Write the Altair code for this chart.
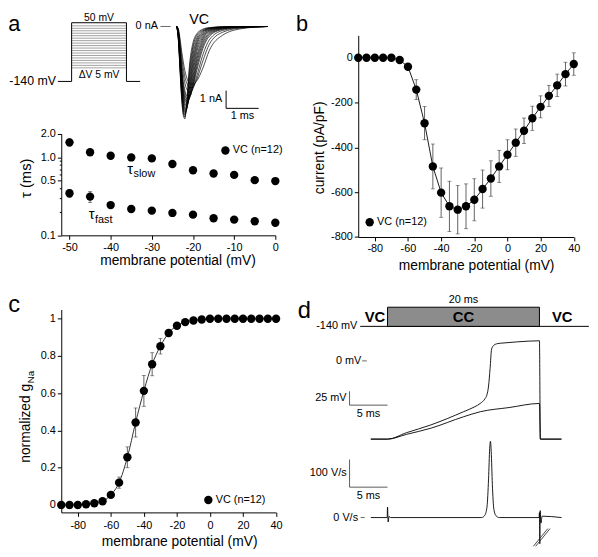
import altair as alt
import pandas as pd

FONT = "Liberation Sans"
SERIES = "VC (n=12)"

# ---------------- panel a (top): voltage-step protocol, schematic (ms, mV) ----------------
PROTO_T = [-1, 0, 0, 4, 4, 5]
PROTO_V = [-140, -140, 50, 50, -140, -140]
STEP_LEVELS = [40, 32, 24, 16, 8, 0, -8, -16, -24, -32, -40, -48, -56, -64, -72, -80, -88, -96]

# ---------------- panel a (top): VC sodium current traces (ms, nA) ----------------
TRACE_T = [0, 0.05, 0.1, 0.15, 0.2, 0.25, 0.3, 0.4, 0.5, 0.6, 0.8, 1.0, 1.4, 2.0, 2.8]
TRACES = [
    [0, -0.8, -2.5, -4.1, -5.0, -5.2, -4.3, -2.0, -0.9, -0.45, -0.15, -0.06, -0.02, 0, 0],
    [0, -0.75, -2.4, -3.95, -4.85, -5.1, -4.45, -2.3, -1.1, -0.55, -0.2, -0.08, -0.02, 0, 0],
    [0, -0.7, -2.3, -3.8, -4.7, -5.0, -4.6, -2.6, -1.3, -0.7, -0.25, -0.1, -0.03, -0.01, 0],
    [0, -0.65, -2.2, -3.65, -4.55, -4.9, -4.65, -2.9, -1.55, -0.85, -0.3, -0.12, -0.03, -0.01, 0],
    [0, -0.6, -2.1, -3.5, -4.4, -4.8, -4.7, -3.2, -1.8, -1.0, -0.35, -0.14, -0.04, -0.01, 0],
    [0, -0.55, -2.0, -3.35, -4.25, -4.7, -4.65, -3.4, -2.05, -1.15, -0.42, -0.17, -0.05, -0.01, 0],
    [0, -0.5, -1.9, -3.2, -4.1, -4.6, -4.6, -3.6, -2.3, -1.35, -0.5, -0.2, -0.06, -0.02, 0],
    [0, -0.45, -1.8, -3.05, -3.95, -4.45, -4.5, -3.75, -2.55, -1.55, -0.6, -0.24, -0.07, -0.02, 0],
    [0, -0.4, -1.7, -2.9, -3.8, -4.3, -4.45, -3.9, -2.8, -1.8, -0.7, -0.28, -0.08, -0.02, 0],
    [0, -0.38, -1.6, -2.75, -3.65, -4.15, -4.3, -3.95, -3.0, -2.0, -0.82, -0.34, -0.1, -0.03, 0],
    [0, -0.35, -1.5, -2.6, -3.5, -4.0, -4.2, -4.0, -3.2, -2.2, -0.95, -0.4, -0.12, -0.03, 0],
    [0, -0.32, -1.4, -2.45, -3.3, -3.8, -4.05, -3.95, -3.3, -2.4, -1.1, -0.47, -0.14, -0.035, 0],
    [0, -0.3, -1.3, -2.3, -3.1, -3.6, -3.9, -3.9, -3.4, -2.6, -1.25, -0.55, -0.17, -0.04, 0],
    [0, -0.25, -1.1, -2.0, -2.7, -3.2, -3.5, -3.7, -3.5, -2.9, -1.6, -0.75, -0.23, -0.06, 0],
    [0, -0.2, -0.9, -1.7, -2.35, -2.85, -3.15, -3.45, -3.4, -3.05, -1.95, -1.0, -0.33, -0.08, 0],
    [0, -0.15, -0.7, -1.4, -2.0, -2.5, -2.85, -3.2, -3.25, -3.1, -2.35, -1.35, -0.5, -0.12, 0],
]

# ---------------- panel a (bottom): inactivation time constants ----------------
TAU_V = [-50, -45, -40, -35, -30, -25, -20, -15, -10, -5, 0]
TAU_SLOW = [1.551, 1.160, 1.044, 0.994, 0.966, 0.818, 0.681, 0.619, 0.594, 0.509, 0.495]
TAU_SLOW_ERR = [0.17, 0.06, 0.04, 0.03, 0.04, 0.03, 0.02, 0.02, 0.02, 0.02, 0.02]
TAU_FAST = [0.346, 0.313, 0.244, 0.217, 0.207, 0.1935, 0.184, 0.1654, 0.159, 0.1516, 0.1447]
TAU_FAST_ERR = [0.04, 0.05, 0.02, 0.015, 0.018, 0.01, 0.008, 0.006, 0.006, 0.006, 0.005]
TAU_TICKS = [0.1, 0.2, 0.3, 0.4, 0.5, 0.6, 0.7, 0.8, 0.9, 1, 2]

# ---------------- panels b, c ----------------
MP = [-90, -85, -80, -75, -70, -65, -60, -55, -50, -45, -40, -35, -30, -25,
      -20, -15, -10, -5, 0, 5, 10, 15, 20, 25, 30, 35, 40]
IV_MEAN = [0, 0, 0, 0, 0, -10, -40, -142, -292, -485, -602, -663, -678, -663,
           -634, -586, -539, -485, -433, -379, -326, -270, -219, -170, -123, -73, -28]
IV_SEM = [0, 0, 0, 0, 0, 0, 0, 44, 74, 100, 110, 112, 108, 100,
          94, 85, 79, 72, 67, 61, 57, 54, 49, 47, 50, 53, 50]
G_MEAN = [0, 0, 0, 0.004, 0.009, 0.02, 0.054, 0.12, 0.256, 0.443, 0.613, 0.756, 0.853, 0.924,
          0.963, 0.982, 0.991, 0.996, 1, 1, 1, 1, 1, 1, 1, 1, 1]
G_SEM = [0, 0, 0, 0, 0, 0, 0.01, 0.03, 0.056, 0.078, 0.083, 0.062, 0.042, 0.018,
         0, 0, 0, 0, 0, 0, 0, 0, 0, 0, 0, 0, 0]

# ---------------- panel d: VC -> CC -> VC protocol and recordings ----------------
CC_START, CC_END = 0, 20
VM_UP_T = [-2.2, 0, 2.5, 5.7, 10.0, 11.5, 12.2, 12.85, 13.07, 13.3, 13.5, 13.7, 14.0, 14.5, 15.2, 17.0, 20.0, 20.12, 22.9]
VM_UP_V = [-140, -140, -128.5, -114.6, -91, -82, -76.2, -67.3, -61.5, -45, -14, 21, 28, 31, 32, 34, 36, -140, -140]
VM_LO_T = [-2.2, 0, 2.5, 5.7, 10.0, 12.2, 16.0, 20.0, 20.12, 22.9]
VM_LO_V = [-140, -140, -131.5, -120.5, -100, -91, -83.5, -76.2, -140, -140]
DVDT_T = [-2.2, -0.05, 0, 0.08, 0.2, 0.4, 12.4, 12.8, 13.1, 13.3, 13.45, 13.55, 13.65, 13.8,
          14.0, 14.3, 14.7, 19.95, 20.0, 20.05, 20.1, 20.2, 20.35, 22.9]
DVDT_V = [0, 0, 38, -16, 4, 0, 0, 8, 40, 140, 250, 276, 240, 120,
          30, 6, 0, 0, 18, -95, 25, -20, 5, 0]


# ---------------- helpers ----------------
def X(field, dom, axis=None):
    return alt.X(field, type="quantitative", scale=alt.Scale(domain=dom, nice=False, zero=False), axis=axis)


def Y(field, dom, axis=None, log=False, rng=None):
    kw = dict(domain=dom, nice=False)
    if log:
        kw["type"] = "log"
    else:
        kw["zero"] = False
    if rng is not None:
        kw["range"] = rng
    return alt.Y(field, type="quantitative", scale=alt.Scale(**kw), axis=axis)


class Frame:
    """x/y scale settings shared by all layers of one plotting frame"""

    def __init__(self, xd, yd, xa=None, ya=None, log=False, rng=None):
        self.xd, self.yd, self.xa, self.ya, self.log, self.rng = xd, yd, xa, ya, log, rng

    def x(self, f):
        return X(f, self.xd, self.xa)

    def y(self, f):
        return Y(f, self.yd, self.ya, self.log, self.rng)

    def text(self, x, y, label, **mk):
        df = pd.DataFrame({"x": [x], "y": [y], "label": [label]})
        return alt.Chart(df).mark_text(font=FONT, color="black", **mk).encode(
            x=self.x("x"), y=self.y("y"), text="label:N")

    def seg(self, x0, x1, y0, y1, color="black", width=1.0):
        df = pd.DataFrame({"x0": x0, "x1": x1, "y0": y0, "y1": y1})
        return alt.Chart(df).mark_rule(color=color, strokeWidth=width).encode(
            x=self.x("x0"), x2="x1", y=self.y("y0"), y2="y1")

    def errors(self, df, xf):
        d = df[df["err"] > 0].copy()
        d["lo"] = d["y"] - d["err"]
        d["hi"] = d["y"] + d["err"]
        stems = alt.Chart(d).mark_rule(color="#3a3a3a", strokeWidth=0.8).encode(
            x=self.x(xf), y=self.y("lo"), y2="hi")
        caps_df = pd.concat([d.assign(cap=d["lo"]), d.assign(cap=d["hi"])])
        caps = alt.Chart(caps_df).mark_tick(orient="horizontal", size=4, thickness=0.8,
                                            color="#3a3a3a").encode(x=self.x(xf), y=self.y("cap"))
        return stems, caps

    def points(self, df, xf, lx, ly):
        return alt.Chart(df).mark_point(filled=True, size=72, opacity=1, shape="circle").encode(
            x=self.x(xf), y=self.y("y"),
            color=alt.Color("series:N", scale=alt.Scale(domain=[SERIES], range=["black"]),
                            legend=alt.Legend(orient="none", legendX=lx, legendY=ly, title=None,
                                              labelFontSize=11, labelFont=FONT, labelColor="black",
                                              symbolType="circle", symbolSize=72,
                                              symbolFillColor="black", symbolStrokeWidth=0,
                                              symbolOpacity=1, labelOffset=2, padding=0, offset=0)))


def text_px(px, py, label, **mk):
    df = pd.DataFrame({"label": [label]})
    return alt.Chart(df).mark_text(font=FONT, color="black", **mk).encode(
        x=alt.value(px), y=alt.value(py), text="label:N")


# ---------------- panel a: one view holding protocol, VC traces and tau plot ----------------
A_W, A_H = 217, 202.7
TOP_RNG = [85, 0]          # pixel band for the schematic part
TAU_RNG = [202.7, 99.7]    # pixel band for the tau plot

# invisible corner marker that pins the figure's top-left corner to the page margin
anchor = alt.Chart(pd.DataFrame({"k": [0]})).mark_rule(strokeOpacity=0, strokeWidth=1).encode(
    x=alt.value(-53.7), x2=alt.value(-52.7), y=alt.value(-23.8))

pf = Frame([-0.755, 14.856], [-262.3, 9.13], rng=TOP_RNG)
proto_df = pd.DataFrame({"t": PROTO_T, "v": PROTO_V, "k": list(range(len(PROTO_T)))})
p_outline = alt.Chart(proto_df).mark_line(color="black", strokeWidth=1).encode(
    x=pf.x("t"), y=pf.y("v"), order="k:Q")
steps_df = pd.DataFrame({"t0": [PROTO_T[2]] * len(STEP_LEVELS), "t1": [PROTO_T[3]] * len(STEP_LEVELS),
                         "v": STEP_LEVELS})
p_steps = alt.Chart(steps_df).mark_rule(color="#8a8a8a", strokeWidth=0.8).encode(
    x=pf.x("t0"), x2="t1", y=pf.y("v"))
proto_layer = alt.layer(
    p_steps, p_outline,
    pf.text(-1, -140, "-140 mV", align="right", baseline="middle", dx=-2, fontSize=12.5),
    pf.text(2, 50, "50 mV", align="center", baseline="alphabetic", dy=-2, fontSize=10.5),
    pf.text(2, -120, "ΔV 5 mV", align="center", baseline="middle", fontSize=10.5),
)

vf = Frame([-3.548, 3.027], [-5.222, -0.5], rng=TOP_RNG)
tr_df = pd.DataFrame([{"t": t, "i": v, "trace": k}
                      for k, tr in enumerate(TRACES) for t, v in zip(TRACE_T, tr)])
vc_lines = alt.Chart(tr_df).mark_line(color="black", strokeWidth=0.7, interpolate="monotone").encode(
    x=vf.x("t"), y=vf.y("i"), detail="trace:N")
vc_layer = alt.layer(
    vc_lines,
    vf.seg([-0.5], [-0.19], [0], [0], color="#444", width=0.8),
    vf.seg([1.515, 1.515], [1.515, 2.515], [-3.61, -4.61], [-4.61, -4.61]),
    vf.text(-0.58, 0, "0 nA", align="right", baseline="middle", fontSize=11),
    vf.text(0.69, 0, "VC", align="center", baseline="alphabetic", dy=-2.3, fontSize=14.5),
    vf.text(1.515, -4.11, "1 nA", align="right", baseline="middle", dx=-4, fontSize=11),
    vf.text(2.015, -4.61, "1 ms", align="center", baseline="top", dy=2, fontSize=11),
    text_px(-53.7, -4.3, "a", align="left", baseline="alphabetic", fontSize=22),
    anchor,
)

major = "indexof([0.1, 0.5, 1, 2], datum.value) >= 0"
tau_xaxis = alt.Axis(orient="bottom", values=[-50, -40, -30, -20, -10, 0], title="membrane potential (mV)",
                     titlePadding=2, labelPadding=2, titleX=117.8, labelExpr="'' + datum.value")
tau_yaxis = alt.Axis(orient="left", values=TAU_TICKS, labelExpr=major + " ? format(datum.value, '.1f') : ''",
                     tickSize={"condition": {"test": major, "value": 4}, "value": 2},
                     title="τ (ms)", titleFontSize=15, titlePadding=7, titleY=144.4, labelOverlap=False)
tf = Frame([-52, 0], [0.1, 2.0], tau_xaxis, tau_yaxis, log=True, rng=TAU_RNG)
tau_df = pd.concat([
    pd.DataFrame({"V": TAU_V, "y": TAU_SLOW, "err": TAU_SLOW_ERR, "kind": "slow"}),
    pd.DataFrame({"V": TAU_V, "y": TAU_FAST, "err": TAU_FAST_ERR, "kind": "fast"}),
])
tau_df["series"] = SERIES
t_stems, t_caps = tf.errors(tau_df, "V")
tau_layer = alt.layer(
    t_stems, t_caps, tf.points(tau_df, "V", 160.9, 111.2),
    tf.text(-36.0, 0.612, "τ", align="left", baseline="alphabetic", fontSize=15),
    tf.text(-36.0, 0.612, "slow", align="left", baseline="alphabetic", dx=6.5, dy=3.3, fontSize=11),
    tf.text(-45.35, 0.1625, "τ", align="left", baseline="alphabetic", fontSize=15),
    tf.text(-45.35, 0.1625, "fast", align="left", baseline="alphabetic", dx=6.5, dy=4, fontSize=11),
)
panel_a = alt.layer(proto_layer, vc_layer, tau_layer).resolve_scale(
    x="independent", y="independent").properties(width=A_W, height=A_H)

# ---------------- panel b (I-V) ----------------
b_xaxis = alt.Axis(values=[-80, -60, -40, -20, 0, 20, 40], title="membrane potential (mV)",
                   titlePadding=5, labelPadding=2, titleX=119.5, labelExpr="'' + datum.value")
b_yaxis = alt.Axis(values=[-800, -600, -400, -200, 0], title="current (pA/pF)", titlePadding=4,
                   titleY=113.5, labelExpr="'' + datum.value")
bf = Frame([-90, 40], [-800, 100], b_xaxis, b_yaxis)
iv_df = pd.DataFrame({"V": MP, "y": IV_MEAN, "err": IV_SEM, "series": SERIES})
b_stems, b_caps = bf.errors(iv_df, "V")
b_line = alt.Chart(iv_df).mark_line(color="black", strokeWidth=0.9).encode(x=bf.x("V"), y=bf.y("y"))
panel_b = alt.layer(
    b_stems, b_caps, b_line, bf.points(iv_df, "V", 6.1, 183.9),
    text_px(-63, -4.3, "b", align="left", baseline="alphabetic", fontSize=22),
).properties(width=218.5, height=204.4)

# ---------------- panel c (activation) ----------------
c_xaxis = alt.Axis(values=[-80, -60, -40, -20, 0, 20, 40], title="membrane potential (mV)",
                   titlePadding=5, labelPadding=3, titleX=119.5, labelExpr="'' + datum.value")
c_yaxis = alt.Axis(values=[0, 0.2, 0.4, 0.6, 0.8, 1], title=None, labelExpr="'' + datum.value")
cf = Frame([-90, 40], [-0.04, 1.05], c_xaxis, c_yaxis)
g_df = pd.DataFrame({"V": MP, "y": G_MEAN, "err": G_SEM, "series": SERIES})
c_stems, c_caps = cf.errors(g_df, "V")
c_line = alt.Chart(g_df).mark_line(color="black", strokeWidth=0.8, interpolate="monotone").encode(
    x=cf.x("V"), y=cf.y("y"))
panel_c = alt.layer(
    c_stems, c_caps, c_line, cf.points(g_df, "V", 143.6, 187.6),
    text_px(-35.5, 155.4, "normalized g", angle=270, align="left", baseline="middle", fontSize=14),
    text_px(-30.7, 74.8, "Na", angle=270, align="left", baseline="middle", fontSize=10),
    text_px(-53.7, 2.1, "c", align="left", baseline="alphabetic", fontSize=24),
).properties(width=217.75, height=205.7)

# ---------------- panel d ----------------
DT = [-3.857, 24.714]
df_p = Frame(DT, [-9.72, 0.881])
df_v = Frame(DT, [-271.2, 92.0])
df_d = Frame(DT, [18.6, 753.2])

box_df = pd.DataFrame({"t0": [CC_START], "t1": [CC_END], "l0": [0], "l1": [1]})
d_box = alt.Chart(box_df).mark_rect(fill="#8c8c8c", stroke="black", strokeWidth=1).encode(
    x=df_p.x("t0"), x2="t1", y=df_p.y("l0"), y2="l1")
mid_cc = (CC_START + CC_END) / 2
d_proto = alt.layer(
    df_p.seg([-3.6], [26.5], [0], [0]),
    d_box,
    df_p.text(-1.65, 0.5, "VC", align="center", baseline="middle", fontSize=15, fontWeight="bold"),
    df_p.text(mid_cc, 0.5, "CC", align="center", baseline="middle", fontSize=15, fontWeight="bold"),
    df_p.text(23.0, 0.5, "VC", align="center", baseline="middle", fontSize=15, fontWeight="bold"),
    df_p.text(mid_cc, 1, "20 ms", align="center", baseline="alphabetic", dy=-4, fontSize=11),
    df_p.text(-3.6, 0, "-140 mV", align="right", baseline="middle", dx=-3, fontSize=11),
    text_px(-61.3, 8.7, "d", align="left", baseline="alphabetic", fontSize=24),
)

vm_df = pd.concat([
    pd.DataFrame({"t": VM_UP_T, "v": VM_UP_V, "trace": "spike", "k": range(len(VM_UP_T))}),
    pd.DataFrame({"t": VM_LO_T, "v": VM_LO_V, "trace": "sub", "k": range(len(VM_LO_T))}),
])
d_vm_lines = alt.Chart(vm_df).mark_line(color="black", strokeWidth=0.9, interpolate="monotone").encode(
    x=df_v.x("t"), y=df_v.y("v"), detail="trace:N", order="k:Q")
d_vm = alt.layer(
    d_vm_lines,
    df_v.seg([-3.35], [-2.73], [0], [0], color="#444", width=0.8),
    df_v.seg([-5, -5], [-5, 0], [-79.2, -79.2], [-54.4, -79.2], color="#333", width=0.8),
    df_v.text(-3.45, 0, "0 mV", align="right", baseline="middle", fontSize=11),
    df_v.text(-5, -66.8, "25 mV", align="right", baseline="middle", dx=-3, fontSize=11),
    df_v.text(-2.5, -79.2, "5 ms", align="center", baseline="top", dy=3, fontSize=11),
)

dv_df = pd.DataFrame({"t": DVDT_T, "d": DVDT_V, "k": range(len(DVDT_T))})
d_dv_line = alt.Chart(dv_df).mark_line(color="black", strokeWidth=0.9, interpolate="monotone").encode(
    x=df_d.x("t"), y=df_d.y("d"), order="k:Q")
d_dv = alt.layer(
    d_dv_line,
    df_d.seg([-3.55], [-3.0], [0], [0], color="#444", width=0.8),
    df_d.seg([-5, -5], [-5, 0], [110, 110], [210, 110], color="#333", width=0.8),
    df_d.seg([19.2, 19.5], [21.1, 21.4], [-104, -104], [-40, -40], color="#333", width=0.9),
    df_d.text(-3.62, 0, "0 V/s", align="right", baseline="middle", dx=-2, fontSize=11),
    df_d.text(-5, 160, "100 V/s", align="right", baseline="middle", dx=-3, fontSize=11),
    df_d.text(-2.5, 110, "5 ms", align="center", baseline="top", dy=3, fontSize=11),
)
panel_d = alt.layer(d_proto, d_vm, d_dv).resolve_scale(y="independent").properties(width=220, height=205.7)

chart = alt.concat(
    panel_a, panel_b, panel_c, panel_d, columns=2, bounds="flush",
    spacing={"row": 72.9, "column": 83.05},
).resolve_scale(color="independent").resolve_legend(color="independent").properties(padding=0)

chart = chart.configure(font=FONT).configure_view(stroke=None).configure_axis(
    domainColor="black", tickColor="black", labelColor="black", titleColor="black",
    labelFont=FONT, titleFont=FONT, labelFontSize=11, titleFontSize=14, titleFontWeight="normal",
    tickSize=4, grid=False, domainWidth=1, tickWidth=1, labelFlush=False, labelBound=False,
).configure_legend(labelFont=FONT, labelFontSize=11)

chart.save("out.html", embed_options={"renderer": "svg", "actions": False})
